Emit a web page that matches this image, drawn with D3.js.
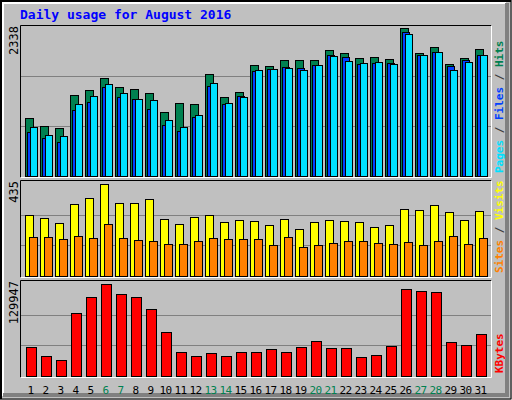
<!DOCTYPE html>
<html><head><meta charset="utf-8">
<script src="https://cdn.jsdelivr.net/npm/d3@7/dist/d3.min.js"></script>
<style>body{margin:0;background:#fff}svg{display:block}</style>
</head><body>
<script>
var days = d3.range(1, 32);
var weekend = [6, 7, 13, 14, 20, 21, 27, 28];
var hits = [900,775,744,1258,1336,1523,1383,1352,1289,993,1133,1118,1585,1227,1305,1726,1710,1804,1804,1804,1960,1913,1835,1850,1819,2303,1913,2006,1741,1835,1975];
var files = [759,635,619,1118,1242,1430,1289,1196,1180,868,759,946,1445,1133,1227,1648,1663,1679,1648,1726,1866,1788,1757,1773,1741,2209,1882,1928,1648,1773,1882];
var pages = [681,588,525,1024,1149,1383,1227,1196,1040,790,697,915,1398,1118,1242,1632,1663,1695,1679,1726,1882,1850,1741,1757,1757,2240,1882,1928,1710,1804,1882];
var visits = [287,273,249,339,367,435,344,344,362,268,244,277,287,254,263,258,240,268,221,254,263,258,254,230,240,315,310,334,301,263,306];
var sites = [183,183,173,188,178,244,178,169,164,150,150,164,178,173,173,173,145,183,136,145,154,164,164,154,150,159,145,164,188,150,178];
var kbytes = [41580,28823,23153,88358,111038,129947,115290,111038,94028,62843,34493,28823,33075,28823,34493,34493,38745,34493,41580,50085,40163,40163,27405,30240,42998,122378,119543,118125,48668,44415,60008];
var maxLabels = ['2338', '435', '129947'];

var W = 512, H = 400;
var svg = d3.select('body').append('svg').attr('width', W).attr('height', H);
var font = '"DejaVu Sans Mono", monospace';

// outer bevelled frame
svg.append('rect').attr('width', W).attr('height', H).attr('fill', '#c0c0c0');
svg.append('path').attr('d', 'M1,399V1H511').attr('stroke', '#000').attr('fill', 'none').attr('stroke-width', 2);
svg.append('path').attr('d', 'M3,396V3H506').attr('stroke', '#fff').attr('fill', 'none').attr('stroke-width', 2);
svg.append('path').attr('d', 'M507,3V395H3').attr('stroke', '#808080').attr('fill', 'none').attr('stroke-width', 4);
svg.append('path').attr('d', 'M511,0V399H0').attr('stroke', '#000').attr('fill', 'none').attr('stroke-width', 1);

svg.append('text').attr('x', 20).attr('y', 19).attr('fill', '#0000ff')
  .attr('font-family', font).attr('font-weight', 'bold').attr('font-size', 13)
  .text('Daily usage for August 2016');

var x = d3.scaleBand().domain(days).range([20, 485]).paddingInner(0);

var panels = [
  { top: 25, bottom: 177, maxTop: 26, max: 2338,
    label: [['Pages', '#00e0ff'], [' / ', '#404040'], ['Files', '#0040ff'], [' / ', '#404040'], ['Hits', '#008050']] },
  { top: 180, bottom: 277, maxTop: 184, max: 435,
    label: [['Sites', '#ff8000'], [' / ', '#404040'], ['Visits', '#ffff00']] },
  { top: 280, bottom: 377, maxTop: 284, max: 129947,
    label: [['KBytes', '#ff0000']] }
];

panels.forEach(function(p, i) {
  p.y = d3.scaleLinear().domain([0, p.max]).range([p.bottom - 1, p.maxTop]);
  svg.append('rect').attr('x', 20).attr('y', p.top).attr('width', 471).attr('height', p.bottom - p.top)
    .attr('fill', '#c0c0c0').attr('stroke', 'none');
  [1 / 3, 2 / 3].forEach(function(f) {
    var yy = Math.round(p.y(p.max * f)) + 0.5;
    svg.append('line').attr('x1', 20).attr('x2', 491).attr('y1', yy).attr('y2', yy)
      .attr('stroke', '#808080').attr('stroke-width', 1);
  });
  svg.append('text').attr('transform', 'translate(18,' + (p.top + 1) + ') rotate(-90)')
    .attr('text-anchor', 'end').attr('font-family', font).attr('font-size', 12).attr('fill', '#000')
    .text(maxLabels[i]);
  var t = svg.append('text').attr('transform', 'translate(505,' + (p.top + 2) + ') rotate(90)')
    .attr('font-family', font).attr('font-size', 11).attr('font-weight', 'bold');
  p.label.slice().reverse().forEach(function(s) {
    t.append('tspan').attr('fill', s[1]).text(s[0].split('').reverse().join('') === s[0] ? s[0] : s[0]);
  });
});

// right labels read bottom-to-top: redo with rotate(-90) anchored at bottom
svg.selectAll('text').filter(function() { return /rotate\(90\)/.test(this.getAttribute('transform')); }).remove();
panels.forEach(function(p) {
  var t = svg.append('text').attr('transform', 'translate(503,' + (p.bottom - 4) + ') rotate(-90)')
    .attr('font-family', font).attr('font-size', 11).attr('font-weight', 'bold');
  p.label.forEach(function(s) { t.append('tspan').attr('fill', s[1]).text(s[0]); });
});

function bars(panel, data, dx, w, color) {
  svg.append('g').selectAll('rect').data(data).join('rect')
    .attr('x', function(d, i) { return x(days[i]) + dx + 0.5; })
    .attr('y', function(d) { return Math.round(panel.y(d)) + 0.5; })
    .attr('width', w)
    .attr('height', function(d) { return panel.bottom - 1 - Math.round(panel.y(d)); })
    .attr('fill', color).attr('stroke', '#000').attr('stroke-width', 1);
}
bars(panels[0], hits, 5, 8, '#008050');
bars(panels[0], pages, 7, 7, '#0040ff');
bars(panels[0], files, 10, 7, '#00e0ff');
bars(panels[1], visits, 5, 8, '#ffff00');
bars(panels[1], sites, 9, 8, '#ff8000');
bars(panels[2], kbytes, 6, 10, '#ff0000');

// panel borders
panels.forEach(function(p) {
  svg.append('path').attr('d', 'M20.5,' + (p.bottom + 0.5) + 'V' + (p.top + 0.5) + 'H491.5')
    .attr('stroke', '#000').attr('fill', 'none');
  svg.append('path').attr('d', 'M491.5,' + (p.top + 0.5) + 'V' + (p.bottom + 0.5) + 'H20.5')
    .attr('stroke', '#fff').attr('fill', 'none');
});

svg.append('g').selectAll('text').data(days).join('text')
  .attr('x', function(d) { return x(d) + x.bandwidth() / 2 + 3; })
  .attr('y', 394).attr('text-anchor', 'middle')
  .attr('font-family', font).attr('font-size', 11)
  .attr('fill', function(d) { return weekend.indexOf(d) >= 0 ? '#008050' : '#000'; })
  .attr('letter-spacing', -0.5)
  .text(function(d) { return d; });
</script>
</body></html>
